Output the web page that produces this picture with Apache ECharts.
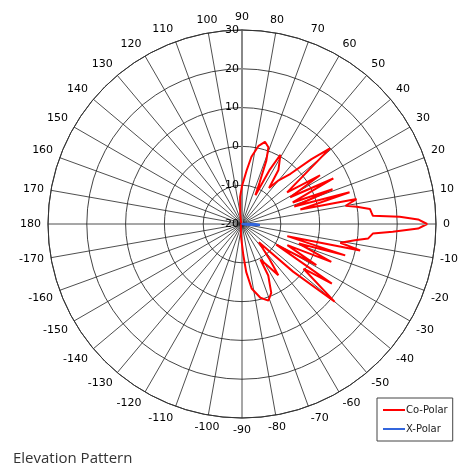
<!DOCTYPE html>
<html>
<head>
<meta charset="utf-8">
<script src="https://cdn.jsdelivr.net/npm/echarts@6/dist/echarts.min.js"></script>
<style>html,body{margin:0;padding:0;background:#fff}#c{width:459px;height:470px}</style>
</head>
<body>
<div id="c"></div>
<script>
// Elevation pattern data: angle (deg) and gain (dB)
const coAngles = [-180,-150,-120,-110,-95,-87.6,-85,-81.5,-76,-71,-67,-63,-62.6,-58,-54.7,-52,-47,-43,-40,-36,-33.6,-31,-29,-25,-23,-19,-16.9,-15,-12.6,-10.8,-8.2,-6.6,-4.2,-2.9,-1.5,0,1.5,2.6,3.6,5,6.7,8.5,10,12.3,14,16.4,18.5,21,23,26.5,29,32,35,40.7,43,46,50,53,56,61,63,65,67,69,71,74.4,78,82,85,90,94,100,110,120,150,180];
const coPolar = [-19.8,-19.8,-19.6,-19.2,-16.9,-12,-7.6,-3.2,-0.4,0.9,-0.7,-5.1,-9.7,-7.1,-3.8,-8.4,-13.6,-2,11.2,-0.4,7.8,-9.7,1.9,-7.1,5,-4.5,7.8,-7.9,11.2,5.8,9.4,12.7,13.8,18.9,25.4,27.7,25.4,20.7,13.8,13.5,13.2,9.9,7.1,10.2,-4.5,8.9,-5.8,5,-5.8,6.3,-5.8,3.7,-5.8,9.9,4.5,-2,-5.3,-8.4,-3.2,0.4,-4.5,-11.8,-8.4,-2.5,0.9,2,0.6,-2.5,-6.1,-10.2,-13,-17.4,-19.2,-19.6,-19.8,-19.8];
const xAngles = [-180,-90,-20,-10,-5,-3,0,3,10,90,180];
const xPolar = [-19.9,-19.9,-19.8,-19,-16,-15.4,-16.5,-18.5,-19.8,-19.9,-19.9];
const radiusTicks = [-20,-10,0,10,20,30];
const titleText = 'Elevation Pattern';

function toAxis(a){ return a < 90 ? a + 360 : a; }
function pairs(angles, vals){ return angles.map((a,i)=>[vals[i], toAxis(a)]); }

const chart = echarts.init(document.getElementById('c'), null, {renderer:'canvas'});
chart.setOption({
  backgroundColor:'#fff',
  animation:false,
  title:{text:titleText,left:8,top:446,textStyle:{fontFamily:'Open Sans',fontSize:15,fontWeight:'normal',color:'#333'}},
  legend:{
    orient:'vertical',left:377,top:398,
    padding:[7,5,7,6],itemGap:9,
    borderColor:'#444',borderWidth:1,borderRadius:0,
    itemWidth:22,itemHeight:2,icon:'rect',
    textStyle:{fontFamily:'DejaVu Sans',fontSize:10,color:'#222',padding:[0,0,0,-4]},
    data:['Co-Polar','X-Polar']
  },
  polar:{center:[242,224],radius:194},
  angleAxis:{
    type:'value',min:90,max:450,interval:10,startAngle:90,clockwise:false,
    axisLine:{lineStyle:{color:'#333',width:1}},
    axisTick:{show:false},
    splitLine:{show:true,lineStyle:{color:'#222',width:0.8}},
    axisLabel:{margin:7,color:'#000',fontFamily:'DejaVu Sans',fontSize:11,
      formatter:function(v){ if(v===450) return ''; let a = v>180 ? v-360 : v; if(a===-180) a=180; return String(Math.round(a)); }}
  },
  radiusAxis:{
    type:'value',min:radiusTicks[0],max:radiusTicks[radiusTicks.length-1],interval:10,
    axisLine:{show:true,lineStyle:{color:'#888',width:2}},
    axisTick:{show:false},
    splitLine:{show:true,lineStyle:{color:'#444',width:1}},
    axisLabel:{color:'#000',fontFamily:'DejaVu Sans',fontSize:11,margin:3}
  },
  series:[
    {name:'Co-Polar',type:'line',coordinateSystem:'polar',symbol:'none',
     lineStyle:{color:'#ff0000',width:2},itemStyle:{color:'#ff0000'},
     data:pairs(coAngles,coPolar)},
    {name:'X-Polar',type:'line',coordinateSystem:'polar',symbol:'none',
     lineStyle:{color:'#3366dd',width:2},itemStyle:{color:'#3366dd'},
     data:pairs(xAngles,xPolar)}
  ]
});
</script>
</body>
</html>
